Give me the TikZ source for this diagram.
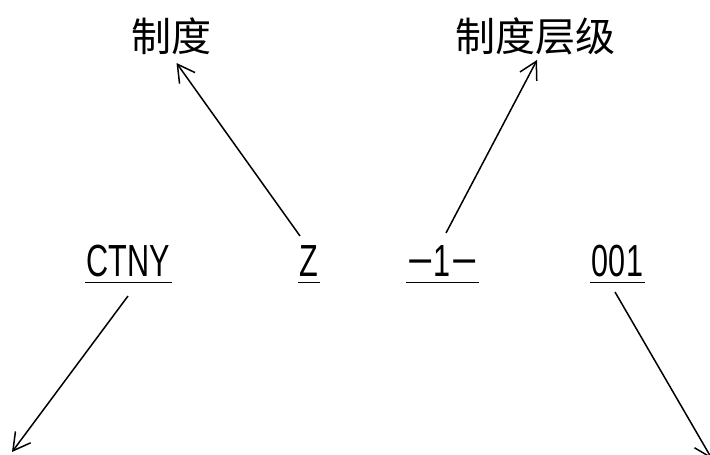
\documentclass[tikz,border=0pt]{standalone}
\usepackage{fontspec}
\newfontfamily\cjk{Noto Sans CJK SC}
\newfontfamily\narrowfont[FakeStretch=0.68]{Liberation Sans}
\newfontfamily\minusfont{Liberation Sans}
\usetikzlibrary{arrows.meta}
\begin{document}
\begin{tikzpicture}[x=1pt,y=1pt,
  lbl/.style={font=\narrowfont\fontsize{45}{45}\selectfont, inner xsep=1.5pt, inner ysep=0pt, anchor=base},
  toplbl/.style={font=\cjk\fontsize{40}{40}\selectfont, inner sep=0pt},
  arr/.style={line width=1.5pt, -{Straight Barb[length=17pt,width=19pt]}},
  uline/.style={line width=1.4pt}]
\useasboundingbox (0,0) rectangle (710,455);
% top labels
\node[toplbl] (zhidu) at (171.5,418.5) {制度};
\node[toplbl] (cengji) at (535,418.5) {制度层级};
% code parts
\node[lbl] (ctny) at (128.5,178) {CTNY};
\node[lbl] (z) at (309,178) {Z};
\node[lbl] (lvl) at (442.5,178) {{\minusfont −}1{\minusfont −}};
\node[lbl] (num) at (617.5,178) {001};
% underlines
\foreach \n in {ctny,z,lvl,num}
  \draw[uline] ([yshift=-5.7pt]\n.base west) -- ([yshift=-5.7pt]\n.base east);
% free ends
\coordinate (leftend) at ([shift={(-116.5,-175)}]ctny.base);
\coordinate (rightend) at ([shift={(94.5,-182)}]num.base);
% connectors
\draw[arr] ([shift={(-9,41)}]z.base) -- ([shift={(5,-26.5)}]zhidu.center);
\draw[arr] ([shift={(3.5,44)}]lvl.base) -- ([shift={(2,-23.5)}]cengji.center);
\draw[arr] ([shift={(-0.5,-19)}]ctny.base) -- (leftend);
\draw[arr] ([shift={(-2.5,-15)}]num.base) -- (rightend);
\end{tikzpicture}
\end{document}
